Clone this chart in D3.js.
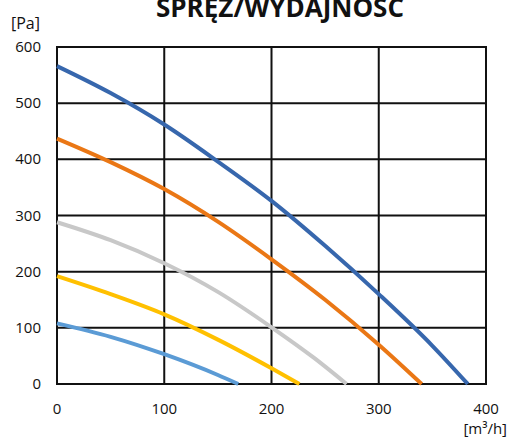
<!DOCTYPE html>
<html>
<head>
<meta charset="utf-8">
<script src="https://cdn.jsdelivr.net/npm/d3@7"></script>
<style>
  body { margin: 0; background: #fff; }
  svg text { font-family: "Open Sans", sans-serif; fill: #111; }
</style>
</head>
<body>
<svg id="chart" width="509" height="440"></svg>
<script>
// flow [m3/h] / pressure [Pa]
var xTicks = [0, 100, 200, 300, 400]
var yTicks = [0, 100, 200, 300, 400, 500, 600]

var curve1X = [0, 50, 100, 150, 200, 250, 300, 350, 383]
var curve1Y = [566, 518, 462, 396, 326, 246, 160, 68, 0]
var curve2X = [0, 50, 100, 150, 200, 250, 300, 340]
var curve2Y = [437, 395, 347, 289, 222, 150, 70, 0]
var curve3X = [0, 50, 100, 150, 200, 240, 270]
var curve3Y = [288, 256, 215, 164, 101, 46, 0]
var curve4X = [0, 50, 100, 150, 200, 226]
var curve4Y = [192, 160, 124, 79, 28, 0]
var curve5X = [0, 50, 100, 150, 169]
var curve5Y = [108, 84, 53, 16, 0]

var colors = ["#3767ad", "#ea7715", "#c8c8c8", "#ffc000", "#5b9bd5"]

var series = [
  {x: curve1X, y: curve1Y},
  {x: curve2X, y: curve2Y},
  {x: curve3X, y: curve3Y},
  {x: curve4X, y: curve4Y},
  {x: curve5X, y: curve5Y}
]

var svg = d3.select("#chart")
var padL = 57, padR = 486, padT = 47, padB = 384

var x = d3.scaleLinear().domain([0, 400]).range([padL, padR])
var y = d3.scaleLinear().domain([0, 600]).range([padB, padT])

// grid
var grid = svg.append("g")
grid.selectAll(".vg").data(xTicks).enter().append("line")
  .attr("x1", function(d){ return x(d) }).attr("x2", function(d){ return x(d) })
  .attr("y1", y(600)).attr("y2", y(0))
  .attr("stroke", "#111").attr("stroke-width", 2)
grid.selectAll(".hg").data(yTicks).enter().append("line")
  .attr("y1", function(d){ return y(d) }).attr("y2", function(d){ return y(d) })
  .attr("x1", x(0) - 1).attr("x2", x(400) + 1)
  .attr("stroke", "#111").attr("stroke-width", 2)

// tick labels
svg.selectAll(".xl").data(xTicks).enter().append("text")
  .attr("x", function(d){ return x(d) })
  .attr("y", 414)
  .attr("text-anchor", "middle")
  .style("font-size", "15px")
  .text(function(d){ return d })
svg.selectAll(".yl").data(yTicks).enter().append("text")
  .attr("x", 41)
  .attr("y", function(d){ return y(d) + 5 })
  .attr("text-anchor", "end")
  .style("font-size", "15px")
  .text(function(d){ return d })

// curves
var line = d3.line()
  .x(function(d){ return x(d[0]) })
  .y(function(d){ return y(d[1]) })
  .curve(d3.curveMonotoneX)

svg.selectAll(".curve").data(series).enter().append("path")
  .attr("d", function(s){ return line(s.x.map(function(v, i){ return [v, s.y[i]] })) })
  .attr("fill", "none")
  .attr("stroke", function(s, i){ return colors[i] })
  .attr("stroke-width", 4)

// titles
svg.append("text")
  .attr("x", 280).attr("y", 17)
  .attr("text-anchor", "middle")
  .style("font-size", "26px").style("font-weight", "bold")
  .text("SPRĘŻ/WYDAJNOSC")
svg.append("text")
  .attr("x", 11).attr("y", 29)
  .style("font-size", "16px")
  .text("[Pa]")
svg.append("text")
  .attr("x", 507).attr("y", 434)
  .attr("text-anchor", "end")
  .style("font-size", "15px")
  .text("[m³/h]")
</script>
</body>
</html>
